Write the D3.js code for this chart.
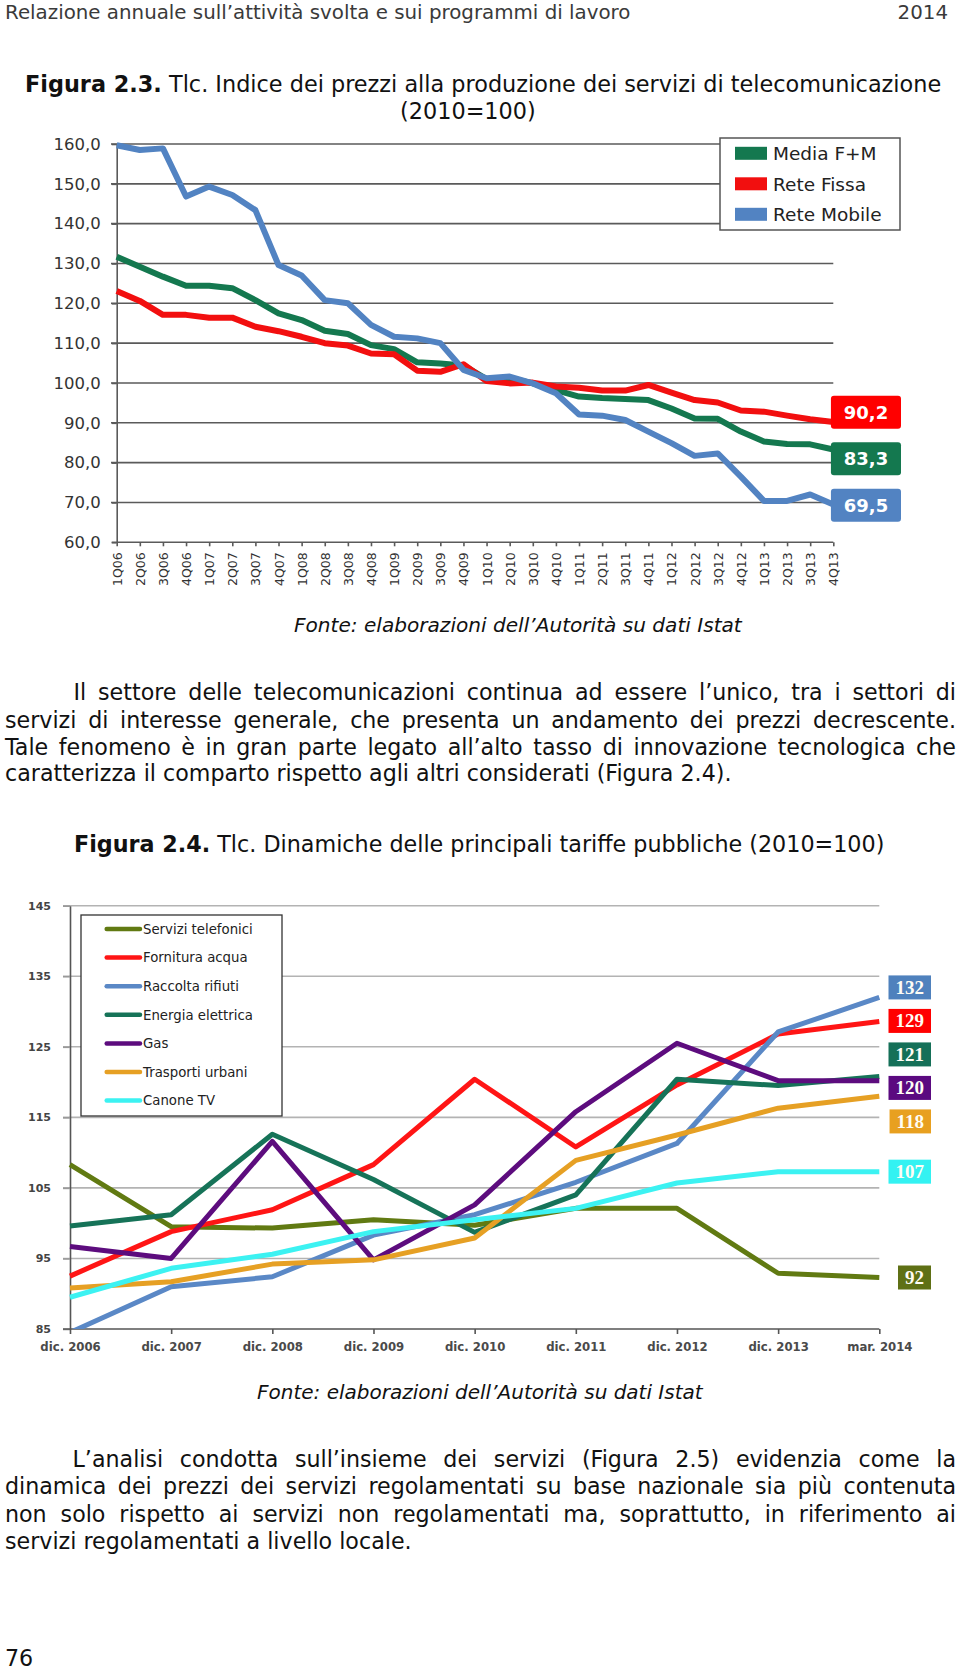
<!DOCTYPE html>
<html><head><meta charset="utf-8">
<script src="https://cdn.jsdelivr.net/npm/d3@7"></script>
<style>body{margin:0;background:#fff} svg{display:block}</style>
</head><body>
<svg id="page" width="960" height="1673"></svg>
<script>
// ---------- Figura 2.3 data ----------
const quarters = ["1Q06","2Q06","3Q06","4Q06","1Q07","2Q07","3Q07","4Q07","1Q08","2Q08","3Q08","4Q08",
  "1Q09","2Q09","3Q09","4Q09","1Q10","2Q10","3Q10","4Q10","1Q11","2Q11","3Q11","4Q11",
  "1Q12","2Q12","3Q12","4Q12","1Q13","2Q13","3Q13","4Q13"];
const mediaFM = [131.7,129.2,126.7,124.4,124.4,123.8,120.8,117.5,115.8,113.1,112.3,109.5,108.5,105.2,104.9,104.4,
  101.0,101.3,99.9,98.2,96.6,96.2,96.0,95.7,93.6,91.1,91.0,87.8,85.3,84.7,84.6,83.3];
const reteFissa = [123.1,120.6,117.1,117.1,116.4,116.4,114.1,113.0,111.6,110.0,109.4,107.4,107.2,103.1,102.8,104.7,
  100.5,99.9,100.1,99.1,98.8,98.1,98.1,99.5,97.6,95.7,95.1,93.1,92.8,91.8,90.9,90.2];
const reteMobile = [159.7,158.5,158.9,146.8,149.3,147.2,143.4,129.6,127.0,120.8,120.0,114.6,111.6,111.2,110.0,103.3,
  101.2,101.6,99.9,97.4,92.1,91.8,90.7,87.8,84.9,81.7,82.3,76.5,70.4,70.4,72.0,69.5];
const seriesNames1 = ["Media F+M","Rete Fissa","Rete Mobile"];
const seriesColors1 = ["#14784f","#f20f0f","#5283c2"];
const yTicks1 = [60,70,80,90,100,110,120,130,140,150,160];

// ---------- Figura 2.4 data ----------
const periods = ["dic. 2006","dic. 2007","dic. 2008","dic. 2009","dic. 2010","dic. 2011","dic. 2012","dic. 2013","mar. 2014"];
const serviziTelefonici = [108.3,99.5,99.3,100.5,99.7,102.1,102.1,92.9,92.3];
const fornituraAcqua   = [92.5,98.8,101.9,108.3,120.4,110.8,119.6,126.8,128.6];
const raccoltaRifiuti  = [84.5,91.0,92.4,98.3,101.2,105.8,111.3,127.1,132.0];
const energiaElettrica = [99.6,101.2,112.6,106.2,98.7,104.0,120.4,119.5,120.8];
const gas              = [96.7,95.0,111.6,94.8,102.6,115.8,125.5,120.2,120.2];
const trasportiUrbani  = [90.8,91.7,94.2,94.8,97.9,108.9,112.5,116.3,118.0];
const canoneTV         = [89.5,93.6,95.6,98.8,100.5,102.1,105.7,107.3,107.3];
const seriesNames2 = ["Servizi telefonici","Fornitura acqua","Raccolta rifiuti","Energia elettrica","Gas","Trasporti urbani","Canone TV"];
const seriesColors2 = ["#617a12","#ff1515","#5a88c6","#167358","#5d0c7e","#e6a024","#3cf2f2"];
const labelColors2  = ["#5f7015","#ff0000","#4f81bd","#157058","#5b0a80","#e8a020","#33f2f2"];
const yTicks2 = [85,95,105,115,125,135,145];

// ---------- text ----------
const headerText = "Relazione annuale sull’attività svolta e sui programmi di lavoro";
const headerYear = "2014";
const fonteText = "Fonte: elaborazioni dell’Autorità su dati Istat";
const para1 = [
  "Il settore delle telecomunicazioni continua ad essere l’unico, tra i settori di",
  "servizi di interesse generale, che presenta un andamento dei prezzi decrescente.",
  "Tale fenomeno è in gran parte legato all’alto tasso di innovazione tecnologica che",
  "caratterizza il comparto rispetto agli altri considerati (Figura 2.4)."
];
const para2 = [
  "L’analisi condotta sull’insieme dei servizi (Figura 2.5) evidenzia come la",
  "dinamica dei prezzi dei servizi regolamentati su base nazionale sia più contenuta",
  "non solo rispetto ai servizi non regolamentati ma, soprattutto, in riferimento ai",
  "servizi regolamentati a livello locale."
];

const svg = d3.select("#page");
const FONT = "DejaVu Sans";
const comma = v => d3.format(".1f")(v).replace(".", ",");

// ---------- text helpers ----------
function fit(sel, target) {
  const L = sel.node().getComputedTextLength();
  const fs = parseFloat(sel.attr("font-size"));
  sel.attr("font-size", fs * target / L);
  return fs * target / L;
}
function measure(str, fs, style) {
  const t = svg.append("text").attr("font-family", FONT).attr("font-size", fs).attr("font-style", style || null).text(str);
  const L = t.node().getComputedTextLength(); t.remove(); return L;
}
function paragraph(lines, firstX, x1, baselines, fs) {
  const g = svg.append("g").attr("font-family", FONT).attr("fill", "#111");
  lines.forEach((str, i) => {
    const x0 = i === 0 ? firstX : 5;
    if (i === lines.length - 1) {
      g.append("text").attr("x", x0).attr("y", baselines[i]).attr("font-size", fs).text(str);
      return;
    }
    const words = str.split(" ");
    const els = words.map(w => g.append("text").attr("y", baselines[i]).attr("font-size", fs).text(w));
    const widths = els.map(e => e.node().getComputedTextLength());
    const gap = (x1 - x0 - d3.sum(widths)) / (words.length - 1);
    let x = x0;
    els.forEach((e, k) => { e.attr("x", x); x += widths[k] + gap; });
  });
}
function boldTitle(x, y, bold, rest, target) {
  const t = svg.append("text").attr("x", x).attr("y", y).attr("font-family", FONT).attr("font-size", 20).attr("fill", "#111");
  t.append("tspan").attr("font-weight", "bold").text(bold);
  t.append("tspan").text(rest);
  return fit(t, target);
}

// header
const hdr = svg.append("text").attr("x", 5).attr("y", 19).attr("font-family", FONT).attr("font-size", 17).attr("fill", "#3a3a3a").text(headerText);
const hfs = fit(hdr, 626);
svg.append("text").attr("x", 948).attr("y", 19).attr("text-anchor", "end").attr("font-family", FONT).attr("font-size", hfs).attr("fill", "#3a3a3a").text(headerYear);

// title 2.3
const tfs = boldTitle(25, 91.5, "Figura 2.3.", " Tlc. Indice dei prezzi alla produzione dei servizi di telecomunicazione", 917);
svg.append("text").attr("x", 400).attr("y", 119).attr("font-family", FONT).attr("font-size", tfs).attr("fill", "#111").text("(2010=100)");

// fonte 1 & 2
const f1 = svg.append("text").attr("x", 294).attr("y", 631.5).attr("font-family", FONT).attr("font-style", "italic").attr("font-size", 18).attr("fill", "#111").text(fonteText);
fit(f1, 448);
const f2 = svg.append("text").attr("x", 257).attr("y", 1399).attr("font-family", FONT).attr("font-style", "italic").attr("font-size", 18).attr("fill", "#111").text(fonteText);
fit(f2, 446);

// paragraphs
const pfs1 = 20 * 732 / measure(para1[3], 20);
const pfs2 = 20 * 404 / measure(para2[3], 20);
const pfs = (pfs1 + pfs2) / 2;
paragraph(para1, 73.5, 956, [700, 727.5, 754.5, 781], pfs);
boldTitle(74, 851.5, "Figura 2.4.", " Tlc. Dinamiche delle principali tariffe pubbliche (2010=100)", 811);
paragraph(para2, 72.5, 956, [1466.5, 1494, 1521.5, 1548.5], pfs);
svg.append("text").attr("x", 5).attr("y", 1666).attr("font-family", FONT).attr("font-size", pfs).attr("fill", "#111").text("76");

// label relaxation (keeps label boxes from overlapping)
function relax(items, gap) {
  items.sort((a, b) => a.y - b.y);
  let cl = items.map(d => ({ items: [d], sum: d.y }));
  const pos = c => { const n = c.items.length, m = c.sum / n; return c.items.map((d, i) => m + (i - (n - 1) / 2) * gap); };
  let changed = true;
  while (changed) {
    changed = false;
    for (let i = 0; i < cl.length - 1; i++) {
      const a = pos(cl[i]), b = pos(cl[i + 1]);
      if (b[0] - a[a.length - 1] < gap) {
        cl[i] = { items: cl[i].items.concat(cl[i + 1].items), sum: cl[i].sum + cl[i + 1].sum };
        cl.splice(i + 1, 1); changed = true; break;
      }
    }
  }
  cl.forEach(c => { const p = pos(c); c.items.forEach((d, i) => d.ly = p[i]); });
  return items;
}

// ================= CHART 1 =================
(function () {
  const x = d3.scalePoint().domain(quarters).range([116.7, 833.3]);
  const y = d3.scaleLinear().domain([60, 160]).range([542.3, 144]);
  const g = svg.append("g");
  g.selectAll("line.grid").data(yTicks1.filter(v => v > 60)).join("line")
    .attr("x1", 111).attr("x2", x.range()[1]).attr("y1", d => y(d)).attr("y2", d => y(d))
    .attr("stroke", "#5a5a5a").attr("stroke-width", 1.6);
  const ya = g.append("g").attr("transform", `translate(${x.range()[0]},0)`)
    .call(d3.axisLeft(y).tickValues(yTicks1).tickFormat(comma).tickSize(5).tickSizeOuter(0).tickPadding(11));
  ya.selectAll("path,line").attr("stroke", "#5a5a5a").attr("stroke-width", 1.6);
  ya.selectAll("text").attr("font-family", FONT).attr("font-size", 16.5).attr("fill", "#333");
  const xa = g.append("g").attr("transform", `translate(0,${y(60)})`)
    .call(d3.axisBottom(x).tickSize(4).tickSizeOuter(0));
  xa.select("path").attr("d", `M${x.range()[0] - 5},0H${x.range()[1]}`);
  xa.selectAll("path,line").attr("stroke", "#5a5a5a").attr("stroke-width", 1.6);
  xa.selectAll("text").attr("font-family", FONT).attr("font-size", 12.5).attr("fill", "#333")
    .attr("transform", "rotate(-90)").attr("text-anchor", "end").attr("x", -10).attr("y", 0).attr("dy", "0.36em");

  const data = [mediaFM, reteFissa, reteMobile];
  const line = d3.line().x((d, i) => x(quarters[i])).y(d => y(d));
  data.forEach((s, k) => {
    g.append("path").attr("d", line(s)).attr("fill", "none").attr("stroke", seriesColors1[k])
      .attr("stroke-width", 6).attr("stroke-linejoin", "round").attr("stroke-linecap", "butt");
  });

  const lg = g.append("g");
  lg.append("rect").attr("x", 720).attr("y", 138).attr("width", 180).attr("height", 92)
    .attr("fill", "#fff").attr("stroke", "#555").attr("stroke-width", 1.5);
  seriesNames1.forEach((n, k) => {
    const cy = 153.3 + k * 30.5;
    lg.append("rect").attr("x", 735).attr("y", cy - 6.5).attr("width", 32).attr("height", 13).attr("fill", seriesColors1[k]);
    lg.append("text").attr("x", 773).attr("y", cy + 6.8).attr("font-family", FONT).attr("font-size", 18.5).attr("fill", "#222").text(n);
  });

  const labs = relax(data.map((s, k) => ({ v: s[s.length - 1], y: y(s[s.length - 1]), c: seriesColors1[k] })), 46.5);
  labs.forEach(d => {
    const str = comma(d.v);
    const w = measure(str, 18) + 30;
    const bx = 901 - w;
    g.append("rect").attr("x", bx).attr("y", d.ly - 16.5).attr("width", w).attr("height", 33).attr("rx", 3)
      .attr("fill", d.c === "#f20f0f" ? "#ff0000" : d.c);
    g.append("text").attr("x", bx + w / 2).attr("y", d.ly + 6.5).attr("text-anchor", "middle")
      .attr("font-family", FONT).attr("font-weight", "bold").attr("font-size", 18).attr("fill", "#fff").text(str);
  });
})();

// ================= CHART 2 =================
(function () {
  const x = d3.scalePoint().domain(periods).range([70, 879.3]);
  const y = d3.scaleLinear().domain([85, 145]).range([1329, 905.7]);
  const g = svg.append("g");
  g.selectAll("line.grid").data(yTicks2.filter(v => v > 85)).join("line")
    .attr("x1", 63).attr("x2", x.range()[1]).attr("y1", d => y(d)).attr("y2", d => y(d))
    .attr("stroke", "#b3b3b3").attr("stroke-width", 1.6);
  const ya = g.append("g").attr("transform", `translate(${x.range()[0]},0)`)
    .call(d3.axisLeft(y).tickValues(yTicks2).tickSize(7).tickSizeOuter(0).tickPadding(12));
  ya.selectAll("path").attr("stroke", "#555").attr("stroke-width", 1.6);
  ya.selectAll("line").attr("stroke", "#999").attr("stroke-width", 1.6);
  ya.selectAll("text").attr("font-family", FONT).attr("font-weight", "bold").attr("font-size", 11).attr("fill", "#444");
  const xa = g.append("g").attr("transform", `translate(0,${y(85)})`)
    .call(d3.axisBottom(x).tickSize(5).tickSizeOuter(0));
  xa.select("path").attr("d", `M${x.range()[0] - 7},0H${x.range()[1]}`);
  xa.selectAll("path,line").attr("stroke", "#555").attr("stroke-width", 1.6);
  xa.selectAll("text").attr("font-family", FONT).attr("font-weight", "bold").attr("font-size", 11.7).attr("fill", "#4a4a4a")
    .attr("y", 13.5).attr("dy", "0.71em");

  g.append("clipPath").attr("id", "clip2").append("rect")
    .attr("x", 60).attr("y", 890).attr("width", 840).attr("height", y(85) - 890);
  const data = [serviziTelefonici, fornituraAcqua, raccoltaRifiuti, energiaElettrica, gas, trasportiUrbani, canoneTV];
  const line = d3.line().x((d, i) => x(periods[i])).y(d => y(d));
  const lines = g.append("g").attr("clip-path", "url(#clip2)");
  data.forEach((s, k) => {
    lines.append("path").attr("d", line(s)).attr("fill", "none").attr("stroke", seriesColors2[k])
      .attr("stroke-width", 5).attr("stroke-linejoin", "round");
  });

  const lg = g.append("g");
  lg.append("rect").attr("x", 81).attr("y", 915).attr("width", 201).attr("height", 201)
    .attr("fill", "#fff").attr("stroke", "#333").attr("stroke-width", 1.3);
  seriesNames2.forEach((n, k) => {
    const cy = 929 + k * 28.6;
    lg.append("line").attr("x1", 106.7).attr("x2", 140).attr("y1", cy).attr("y2", cy)
      .attr("stroke", seriesColors2[k]).attr("stroke-width", 4.5).attr("stroke-linecap", "round");
    lg.append("text").attr("x", 143).attr("y", cy + 4.8).attr("font-family", FONT).attr("font-size", 13.3).attr("fill", "#222").text(n);
  });

  const SERIF = "Liberation Serif";
  const labs = relax(data.map((s, k) => ({ v: s[s.length - 1], y: y(s[s.length - 1]), c: labelColors2[k] })), 33.5);
  labs.forEach(d => {
    const str = d3.format(".0f")(d.v);
    const t = g.append("text").attr("font-family", SERIF).attr("font-weight", "bold").attr("font-size", 19).text(str);
    const w = t.node().getComputedTextLength() + 14;
    const bx = 931 - w;
    g.insert("rect", () => t.node()).attr("x", bx).attr("y", d.ly - 12).attr("width", w).attr("height", 24).attr("fill", d.c);
    t.attr("x", bx + w / 2).attr("y", d.ly + 6.5).attr("text-anchor", "middle").attr("fill", "#fffdf5");
  });
})();
</script>
</body></html>
